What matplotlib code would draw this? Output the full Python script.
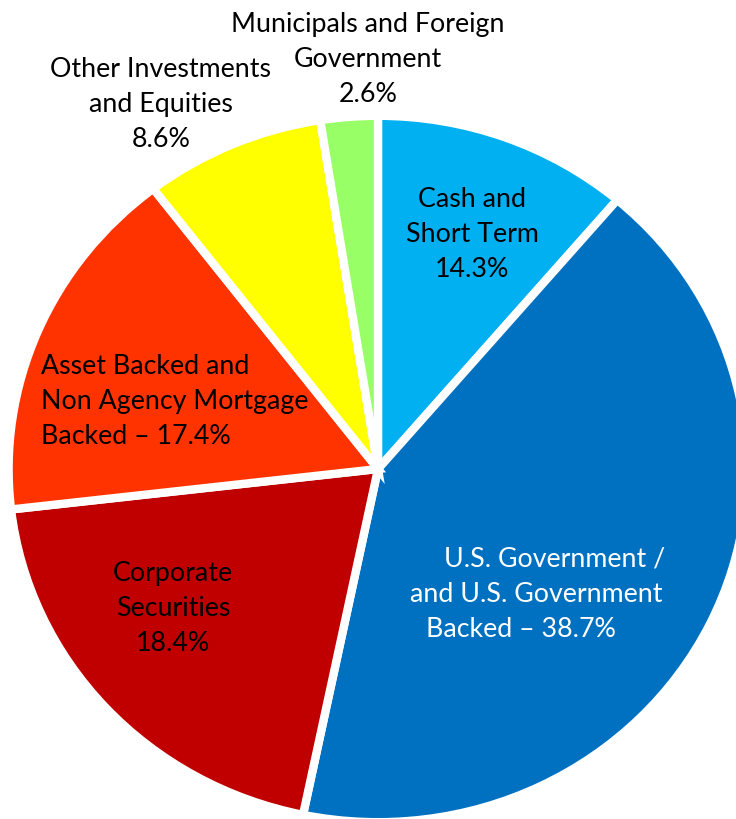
import matplotlib.pyplot as plt

# slice shares as drawn (measured from the wedge angles), clockwise from 12 o'clock
categories = ["Cash and Short Term", "U.S. Government", "Corporate Securities",
              "Asset Backed", "Other Investments", "Municipals"]
shares = [11.2, 42.0, 19.9, 16.4, 7.9, 2.5]
colors = ["#00B0F0", "#0070C0", "#C00000", "#FF3300", "#FFFF00", "#99FF66"]

# label text exactly as printed on the chart
label_lines = [
    ["Cash and", "Short Term", "14.3%"],
    ["U.S. Government /", "and U.S. Government", "Backed \u2013 38.7%"],
    ["Corporate", "Securities", "18.4%"],
    ["Asset Backed and", "Non Agency Mortgage", "Backed \u2013 17.4%"],
    ["Other Investments", "and Equities", "8.6%"],
    ["Municipals and Foreign", "Government", "2.6%"],
]

W, H = 736, 820
# (x per line, first baseline, alignment) in pixels from top-left
label_pos = [
    ([472, 472, 472], 207, "center"),
    ([555, 536, 521], 567, "center"),
    ([173, 173, 173], 581, "center"),
    ([41, 41, 41], 374, "left"),
    ([161, 161, 161], 77, "center"),
    ([368, 368, 368], 32, "center"),
]
text_colors = ["black", "white", "black", "black", "black", "black"]
line_step = 35

fig = plt.figure(figsize=(W / 100, H / 100), dpi=100)
ax = fig.add_axes([0, 0, 1, 1])
ax.axis("off")

ax.pie(shares, colors=colors, startangle=90, counterclock=False, radius=1.012,
       wedgeprops=dict(edgecolor="white", linewidth=6))

# pie is slightly wider than tall in the reference
cx, cy, rx, ry = 378, 470, 365, 349
ax.set_aspect("auto")
ax.set_xlim(-cx / rx, (W - cx) / rx)
ax.set_ylim(-(H - cy) / ry, cy / ry)

for lines, (xs, y0, ha), col in zip(label_lines, label_pos, text_colors):
    for i, (line, x) in enumerate(zip(lines, xs)):
        fig.text(x / W, 1 - (y0 + i * line_step) / H, line, ha=ha, va="baseline",
                 fontsize=19.3, family="Lato", color=col)

fig.savefig("out.png", dpi=100)
